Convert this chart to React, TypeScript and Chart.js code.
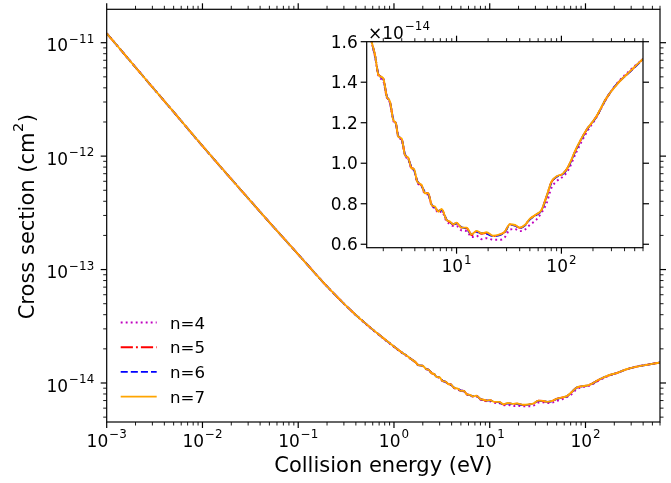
import React, { useEffect, useRef } from 'react';
import { Chart, registerables } from 'chart.js';

Chart.register(...registerables);

// values are in units of 1e-14 cm^2
const UNIT = 1e-14;

const energy = [
  0.001, 0.002, 0.005, 0.01, 0.02, 0.05, 0.1, 0.15, 0.2, 0.3, 0.4, 0.5, 0.7, 1.0, 1.2, 1.4,
  1.55, 1.67, 1.8, 2.0, 2.16, 2.32, 2.49, 2.64, 2.78, 2.99,
  3.22, 3.46, 3.72, 3.92, 4.22, 4.64, 4.99, 5.37, 5.78, 6.22,
  6.69, 7.2, 8.03, 8.65, 9.3, 10, 11.2, 12.5, 13.9, 15.5,
  17.3, 19.3, 22.3, 25.9, 28.9, 32.2, 36, 40.1, 44.8, 49.9,
  57.8, 64.5, 72, 80.4, 89.6, 104, 116, 139, 173, 215,
  268, 334, 448, 600,
];

const sigmaN4 = [
  1210, 607, 245, 123, 62.8, 26.1, 13.6, 9.27, 7.1, 5.0, 3.96, 3.35, 2.64, 2.08, 1.85, 1.7,
  1.595, 1.525, 1.43, 1.405, 1.325, 1.295, 1.21, 1.19, 1.128, 1.115,
  1.038, 1.02, 0.972, 0.965, 0.905, 0.885, 0.848, 0.845, 0.79, 0.778,
  0.755, 0.762, 0.712, 0.7, 0.69, 0.69, 0.668, 0.665, 0.635, 0.642,
  0.625, 0.63, 0.622, 0.622, 0.635, 0.672, 0.675, 0.665, 0.672, 0.695,
  0.722, 0.755, 0.8, 0.878, 0.91, 0.935, 0.965, 1.055, 1.15, 1.225,
  1.318, 1.39, 1.458, 1.515,
];

const sigmaN5 = [
  1210, 607, 245, 123, 62.8, 26.1, 13.6, 9.27, 7.1, 5.01, 3.98, 3.37, 2.66, 2.1, 1.87, 1.71,
  1.6, 1.532, 1.438, 1.418, 1.33, 1.302, 1.216, 1.196, 1.133, 1.121,
  1.043, 1.025, 0.977, 0.97, 0.91, 0.89, 0.855, 0.85, 0.795, 0.783,
  0.763, 0.771, 0.721, 0.709, 0.698, 0.704, 0.681, 0.679, 0.645, 0.663,
  0.652, 0.656, 0.64, 0.647, 0.661, 0.698, 0.693, 0.681, 0.694, 0.724,
  0.747, 0.768, 0.834, 0.907, 0.933, 0.949, 0.982, 1.072, 1.163, 1.229,
  1.32, 1.387, 1.451, 1.515,
];

const sigmaN6 = [
  1210, 607, 245, 123, 62.8, 26.1, 13.6, 9.27, 7.1, 5.01, 3.98, 3.37, 2.66, 2.1, 1.87, 1.71,
  1.6, 1.53, 1.44, 1.415, 1.332, 1.3, 1.218, 1.195, 1.135, 1.12,
  1.045, 1.022, 0.98, 0.968, 0.912, 0.888, 0.858, 0.848, 0.797, 0.781,
  0.765, 0.768, 0.722, 0.706, 0.7, 0.702, 0.684, 0.676, 0.65, 0.66,
  0.655, 0.652, 0.64, 0.645, 0.66, 0.696, 0.692, 0.68, 0.692, 0.722,
  0.745, 0.766, 0.832, 0.905, 0.932, 0.948, 0.98, 1.07, 1.162, 1.228,
  1.32, 1.388, 1.45, 1.514,
];

const sigmaN7 = [
  1210, 607, 245, 123, 62.8, 26.1, 13.6, 9.27, 7.1, 5.01, 3.98, 3.37, 2.66, 2.1, 1.87, 1.71,
  1.6, 1.534, 1.436, 1.419, 1.329, 1.304, 1.214, 1.197, 1.131, 1.123,
  1.041, 1.027, 0.975, 0.972, 0.909, 0.893, 0.852, 0.852, 0.794, 0.786,
  0.761, 0.774, 0.72, 0.712, 0.699, 0.707, 0.682, 0.682, 0.649, 0.666,
  0.654, 0.659, 0.642, 0.649, 0.662, 0.699, 0.695, 0.682, 0.695, 0.725,
  0.748, 0.769, 0.835, 0.909, 0.934, 0.95, 0.983, 1.074, 1.164, 1.23,
  1.321, 1.386, 1.452, 1.515,
];

const seriesLabels = ['n=4', 'n=5', 'n=6', 'n=7'];
const seriesColors = ['#bf00bf', '#ff0000', '#0000ff', '#ffa500'];
const seriesDashes = [[1.9, 3.1], [12.2, 3.05, 1.9, 3.05], [7.05, 3.05], []];

const mainXDecades = [-3, -2, -1, 0, 1, 2];
const mainYDecades = [-15, -14, -13, -12, -11];
const mainYLabelDecades = [-14, -13, -12, -11];
const minorMultipliers = [2, 3, 4, 5, 6, 7, 8, 9];
const insetYTicks = [0.6, 0.8, 1.0, 1.2, 1.4, 1.6];
const insetXDecades = [0, 1, 2];
const insetXLabelDecades = [1, 2];

const FONT = '"DejaVu Sans", "Liberation Sans", sans-serif';
const font = (s: number) => `${s}px ${FONT}`;

const allSeries = [sigmaN4, sigmaN5, sigmaN6, sigmaN7];

function makeDatasets(minE: number, scale: number) {
  return allSeries.map((s, i) => ({
    label: seriesLabels[i],
    data: energy
      .map((e, j) => ({ x: e, y: s[j] * scale }))
      .filter((p) => p.x >= minE),
    borderColor: seriesColors[i],
    backgroundColor: seriesColors[i],
    borderWidth: 1.9,
    borderDash: seriesDashes[i],
    pointRadius: 0,
    fill: false,
    cubicInterpolationMode: 'monotone' as const,
    order: 3 - i,
  }));
}

function line(ctx: CanvasRenderingContext2D, x1: number, y1: number, x2: number, y2: number, w: number) {
  ctx.lineWidth = w;
  ctx.beginPath();
  ctx.moveTo(x1, y1);
  ctx.lineTo(x2, y2);
  ctx.stroke();
}

function drawPow(
  ctx: CanvasRenderingContext2D,
  base: string,
  exp: number,
  x: number,
  baseY: number,
  align: 'center' | 'right' | 'left',
  size = 17,
) {
  const sup = (exp < 0 ? '\u2212' : '') + Math.abs(exp);
  const supSize = size * 0.7;
  ctx.font = font(size);
  const wb = ctx.measureText(base).width;
  ctx.font = font(supSize);
  const ws = ctx.measureText(sup).width;
  const gap = 1;
  const total = wb + gap + ws;
  const x0 = align === 'center' ? x - total / 2 : align === 'right' ? x - total : x;
  ctx.textAlign = 'left';
  ctx.textBaseline = 'alphabetic';
  ctx.font = font(size);
  ctx.fillText(base, x0, baseY);
  ctx.font = font(supSize);
  ctx.fillText(sup, x0 + wb + gap, baseY - size * 0.51);
}

const MAJ = 6;
const MIN = 3.5;
const MAJW = 1.2;
const MINW = 0.9;

const mainPlugin = {
  id: 'mainDecor',
  afterDraw(chart: any) {
    const { ctx, chartArea: a } = chart;
    const xs = chart.scales.x;
    const ys = chart.scales.y;
    ctx.save();
    ctx.strokeStyle = '#000';
    ctx.fillStyle = '#000';
    ctx.lineWidth = 1.2;
    ctx.strokeRect(a.left, a.top, a.right - a.left, a.bottom - a.top);

    // x ticks
    for (const k of mainXDecades) {
      for (const m of [1, ...minorMultipliers]) {
        const v = m * Math.pow(10, k);
        if (v < xs.min * 0.999 || v > xs.max * 1.001) continue;
        const px = xs.getPixelForValue(v);
        const len = m === 1 ? MAJ : MIN;
        const w = m === 1 ? MAJW : MINW;
        line(ctx, px, a.bottom, px, a.bottom + len, w);
        line(ctx, px, a.top, px, a.top - len, w);
      }
    }
    // y ticks
    for (const k of mainYDecades) {
      for (const m of [1, ...minorMultipliers]) {
        const v = m * Math.pow(10, k);
        if (v < ys.min || v > ys.max) continue;
        const py = ys.getPixelForValue(v);
        const len = m === 1 ? MAJ : MIN;
        const w = m === 1 ? MAJW : MINW;
        line(ctx, a.left, py, a.left - len, py, w);
        line(ctx, a.right, py, a.right + len, py, w);
      }
    }
    // tick labels
    for (const k of mainXDecades) {
      const px = xs.getPixelForValue(Math.pow(10, k));
      drawPow(ctx, '10', k, px, a.bottom + 24.7, 'center');
    }
    for (const k of mainYLabelDecades) {
      const py = ys.getPixelForValue(Math.pow(10, k));
      drawPow(ctx, '10', k, a.left - 12.5, py + 8.7, 'right');
    }

    // axis titles
    ctx.font = font(21);
    ctx.textAlign = 'center';
    ctx.textBaseline = 'alphabetic';
    ctx.fillText('Collision energy (eV)', (a.left + a.right) / 2, 472);

    ctx.save();
    ctx.translate(33.5, (a.top + a.bottom) / 2 + 1);
    ctx.rotate(-Math.PI / 2);
    const p1 = 'Cross section (cm';
    const p2 = '2';
    const p3 = ')';
    ctx.font = font(21);
    const w1 = ctx.measureText(p1).width;
    const w3 = ctx.measureText(p3).width;
    ctx.font = font(14.7);
    const w2 = ctx.measureText(p2).width;
    const tot = w1 + w2 + w3 + 1;
    const x0 = -tot / 2;
    ctx.textAlign = 'left';
    ctx.font = font(21);
    ctx.fillText(p1, x0, 0);
    ctx.font = font(14.7);
    ctx.fillText(p2, x0 + w1 + 0.5, -10.5);
    ctx.font = font(21);
    ctx.fillText(p3, x0 + w1 + w2 + 1, 0);
    ctx.restore();

    // legend
    const rows = [322.5, 347.2, 371.9, 396.6];
    for (let i = 0; i < seriesLabels.length; i++) {
      const y = rows[i];
      ctx.save();
      ctx.strokeStyle = seriesColors[i];
      ctx.lineWidth = 1.9;
      ctx.setLineDash(seriesDashes[i]);
      ctx.beginPath();
      ctx.moveTo(120.7, y);
      ctx.lineTo(156.7, y);
      ctx.stroke();
      ctx.restore();
      ctx.fillStyle = '#000';
      ctx.font = font(16.6);
      ctx.textAlign = 'left';
      ctx.textBaseline = 'alphabetic';
      ctx.fillText(seriesLabels[i], 170, y + 6);
    }
    ctx.restore();
  },
};

const insetPlugin = {
  id: 'insetDecor',
  beforeDatasetsDraw(chart: any) {
    const { ctx, chartArea: a } = chart;
    ctx.save();
    ctx.fillStyle = '#fff';
    ctx.fillRect(a.left, a.top, a.right - a.left, a.bottom - a.top);
    ctx.restore();
  },
  afterDraw(chart: any) {
    const { ctx, chartArea: a } = chart;
    const xs = chart.scales.x;
    const ys = chart.scales.y;
    ctx.save();
    ctx.strokeStyle = '#000';
    ctx.fillStyle = '#000';
    ctx.lineWidth = 1.2;
    ctx.strokeRect(a.left, a.top, a.right - a.left, a.bottom - a.top);

    for (const k of insetXDecades) {
      for (const m of [1, ...minorMultipliers]) {
        const v = m * Math.pow(10, k);
        if (v < xs.min || v > xs.max) continue;
        const px = xs.getPixelForValue(v);
        const len = m === 1 ? MAJ : MIN;
        const w = m === 1 ? MAJW : MINW;
        line(ctx, px, a.bottom, px, a.bottom + len, w);
        line(ctx, px, a.top, px, a.top - len, w);
      }
    }
    for (const t of insetYTicks) {
      const py = ys.getPixelForValue(t);
      line(ctx, a.left, py, a.left - MAJ, py, MAJW);
      line(ctx, a.right, py, a.right + MAJ, py, MAJW);
      ctx.font = font(17);
      ctx.textAlign = 'right';
      ctx.textBaseline = 'alphabetic';
      ctx.fillText(t.toFixed(1), a.left - 9, py + 6.2);
    }
    for (const k of insetXLabelDecades) {
      const px = xs.getPixelForValue(Math.pow(10, k));
      drawPow(ctx, '10', k, px, a.bottom + 24.5, 'center');
    }
    // offset text
    drawPow(ctx, '\u00d710', -14, a.left + 1.3, a.top - 3.2, 'left');
    ctx.restore();
  },
};

export default function App() {
  const mainRef = useRef<HTMLCanvasElement>(null);
  const insetRef = useRef<HTMLCanvasElement>(null);

  useEffect(() => {
    const main = new Chart(mainRef.current as HTMLCanvasElement, {
      type: 'line',
      data: { datasets: makeDatasets(0, UNIT) as any },
      options: {
        responsive: false,
        animation: false,
        devicePixelRatio: 1,
        events: [],
        layout: { padding: { left: 106.7, right: 11, top: 9.3, bottom: 61 } },
        scales: {
          x: { type: 'logarithmic', min: 1e-3, max: 600, display: false },
          y: { type: 'logarithmic', min: 4.53e-15, max: 1.97e-11, display: false },
        },
        plugins: {
          legend: { display: false },
          tooltip: { enabled: false },
          title: { display: false },
        },
      },
      plugins: [mainPlugin],
    });

    const inset = new Chart(insetRef.current as HTMLCanvasElement, {
      type: 'line',
      data: { datasets: makeDatasets(1.2, 1) as any },
      options: {
        responsive: false,
        animation: false,
        devicePixelRatio: 1,
        events: [],
        layout: { padding: { left: 66.7, right: 28, top: 41.7, bottom: 37.3 } },
        scales: {
          x: { type: 'logarithmic', min: 1.39, max: 600, display: false },
          y: { type: 'linear', min: 0.583, max: 1.6, display: false },
        },
        plugins: {
          legend: { display: false },
          tooltip: { enabled: false },
          title: { display: false },
        },
      },
      plugins: [insetPlugin],
    });

    return () => {
      main.destroy();
      inset.destroy();
    };
  }, []);

  return (
    <div style={{ position: 'absolute', left: 0, top: 0, width: 671, height: 483, background: '#fff', overflow: 'hidden' }}>
      <canvas
        ref={mainRef}
        width={671}
        height={483}
        style={{ position: 'absolute', left: 0, top: 0, width: 671, height: 483 }}
      />
      <canvas
        ref={insetRef}
        width={371}
        height={285}
        style={{ position: 'absolute', left: 300, top: 0, width: 371, height: 285 }}
      />
    </div>
  );
}
